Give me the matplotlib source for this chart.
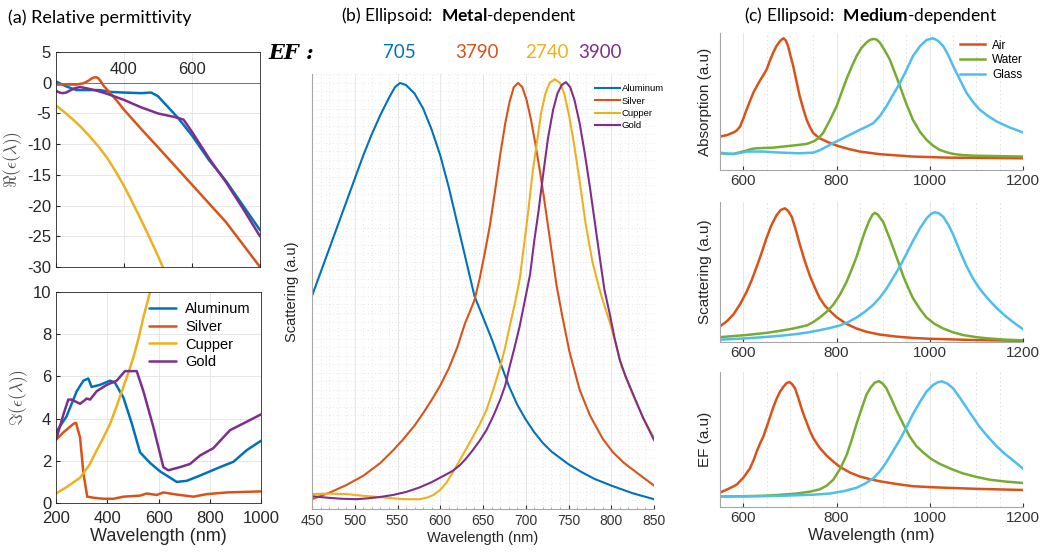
import numpy as np
import matplotlib
matplotlib.use("Agg")
import matplotlib.pyplot as plt
from matplotlib.ticker import MultipleLocator

plt.rcParams['font.family'] = ['Liberation Sans', 'DejaVu Sans']
plt.rcParams['axes.unicode_minus'] = False
plt.rcParams['mathtext.fontset'] = 'custom'
plt.rcParams['mathtext.rm'] = 'Lato'
plt.rcParams['mathtext.bf'] = 'Lato:bold'
plt.rcParams['mathtext.it'] = 'Lato:italic'

# MATLAB default colour order
BLUE, ORANGE, YELLOW, PURPLE = '#0072BD', '#D95319', '#EDB120', '#7E2F8E'
GREEN, CYAN = '#77AC30', '#4DBEEE'

metals = ['Aluminum', 'Silver', 'Cupper', 'Gold']
media = ['Air', 'Water', 'Glass']
ef_values = ['705', '3790', '2740', '3900']

### (a) real part of permittivity
re_al_wl = [200, 230, 260, 300, 330, 360, 400, 450, 480, 500, 530, 560, 600, 650, 700, 750, 800]
re_al = [0.2, -0.6, -1.2, -1.2, -1.2, -1.5, -1.6, -1.7, -1.6, -2.2, -4.0, -5.8, -8.6, -12.6, -16.0, -20.0, -24.0]
re_ag_wl = [200, 260, 280, 295, 305, 312, 318, 325, 332, 340, 350, 360, 380, 400, 450, 500, 600, 700, 800]
re_ag = [-0.3, -0.3, -0.1, 0.3, 0.7, 0.85, 0.9, 0.7, 0.2, -0.5, -1.1, -1.7, -3.0, -4.4, -7.5, -10.5, -16.6, -22.7, -30.0]
re_cu_wl = [200, 225, 250, 275, 300, 325, 350, 375, 400, 425, 450, 475, 500, 520]
re_cu = [-3.7, -4.8, -6.0, -7.3, -8.8, -10.4, -12.2, -14.4, -16.8, -19.5, -22.3, -25.2, -28.2, -30.8]
re_au_wl = [200, 210, 220, 230, 240, 255, 270, 290, 320, 350, 400, 450, 500, 550, 575, 600, 650, 700, 750, 800]
re_au = [-1.3, -1.6, -1.7, -1.6, -1.3, -0.9, -0.7, -0.9, -1.3, -1.8, -2.8, -4.0, -5.0, -5.6, -6.0, -8.0, -12.3, -16.2, -20.5, -25.0]

### (a) imaginary part of permittivity
im_al_wl = [200, 241, 281, 307, 326, 339, 372, 411, 430, 463, 495, 528, 567, 606, 671, 710, 762, 840, 892, 944, 1000]
im_al = [3.35, 4.1, 5.3, 5.8, 5.9, 5.5, 5.6, 5.8, 5.7, 5.0, 3.8, 2.4, 1.9, 1.5, 1.0, 1.05, 1.3, 1.7, 1.95, 2.5, 2.95]
im_ag_wl = [200, 229, 268, 278, 294, 307, 322, 346, 385, 424, 463, 528, 554, 593, 619, 671, 736, 788, 866, 1000]
im_ag = [3.0, 3.35, 3.75, 3.8, 3.1, 1.4, 0.3, 0.25, 0.2, 0.2, 0.3, 0.35, 0.45, 0.38, 0.5, 0.4, 0.3, 0.42, 0.5, 0.55]
im_cu_wl = [200, 241, 294, 330, 359, 385, 411, 437, 463, 483, 502, 522, 541, 567, 580]
im_cu = [0.45, 0.75, 1.2, 1.8, 2.5, 3.1, 3.75, 4.6, 5.5, 6.2, 6.9, 7.8, 8.8, 10.0, 10.6]
im_au_wl = [200, 229, 248, 261, 294, 320, 333, 359, 398, 437, 469, 515, 541, 580, 619, 638, 684, 723, 762, 814, 879, 944, 1000]
im_au = [3.0, 4.2, 4.9, 4.9, 4.7, 4.95, 4.9, 5.3, 5.6, 5.8, 6.25, 6.25, 5.3, 3.6, 1.7, 1.55, 1.7, 1.85, 2.25, 2.6, 3.45, 3.85, 4.2]

### (b) scattering, metal dependent
sc_al_wl = [450, 460, 470, 480, 490, 500, 510, 520, 530, 540, 547, 553, 560, 570, 580, 590, 600, 610, 620, 630,
            640, 650, 660, 670, 680, 690, 700, 710, 720, 730, 740, 750, 765, 780, 800, 825, 850]
sc_al = [0.50, 0.555, 0.61, 0.665, 0.72, 0.775, 0.83, 0.88, 0.925, 0.965, 0.99, 1.0, 0.995, 0.975, 0.94, 0.89, 0.83,
         0.755, 0.67, 0.585, 0.50, 0.45, 0.40, 0.345, 0.29, 0.245, 0.21, 0.18, 0.155, 0.135, 0.12, 0.105, 0.087,
         0.071, 0.055, 0.037, 0.023]
sc_ag_wl = [450, 470, 490, 510, 530, 545, 556, 570, 580, 590, 600, 610, 620, 629, 635, 640, 646, 652, 658, 664, 670,
            676, 681, 686, 691, 696, 701, 706, 711, 716, 721, 726, 731, 736, 742, 751, 763, 775, 790, 802, 815, 830, 850]
sc_ag = [0.023, 0.038, 0.056, 0.078, 0.108, 0.138, 0.162, 0.196, 0.225, 0.256, 0.29, 0.33, 0.38, 0.436, 0.465, 0.49,
         0.54, 0.60, 0.665, 0.745, 0.83, 0.905, 0.955, 0.99, 1.0, 0.99, 0.96, 0.915, 0.86, 0.80, 0.735, 0.665, 0.595,
         0.525, 0.46, 0.37, 0.28, 0.22, 0.165, 0.133, 0.108, 0.085, 0.055]
sc_cu_wl = [450, 470, 490, 510, 529, 545, 560, 576, 585, 592, 600, 607, 615, 623, 630, 638, 646, 654, 662, 670, 676,
            681, 687, 693, 698, 703, 708, 713, 718, 723, 728, 734, 740, 745, 751, 757, 763, 770, 778, 785, 790, 798,
            805, 812, 825, 837, 850]
sc_cu = [0.035, 0.036, 0.035, 0.031, 0.028, 0.025, 0.023, 0.023, 0.027, 0.033, 0.045, 0.061, 0.087, 0.115, 0.14,
         0.169, 0.198, 0.232, 0.28, 0.333, 0.38, 0.427, 0.48, 0.54, 0.62, 0.70, 0.79, 0.86, 0.93, 0.975, 1.0, 1.009,
         1.0, 0.975, 0.92, 0.85, 0.77, 0.67, 0.58, 0.525, 0.49, 0.44, 0.39, 0.335, 0.27, 0.215, 0.167]
sc_au_wl = [450, 460, 471, 485, 502, 515, 529, 545, 560, 575, 590, 605, 615, 623, 630, 638, 646, 654, 662, 670, 676,
            681, 687, 693, 699, 705, 710, 715, 720, 726, 732, 737, 742, 747, 752, 757, 763, 769, 775, 781, 787, 792,
            798, 804, 810, 817, 825, 837, 850]
sc_au = [0.03, 0.028, 0.026, 0.024, 0.023, 0.025, 0.028, 0.033, 0.04, 0.05, 0.063, 0.079, 0.09, 0.103, 0.118, 0.138,
         0.16, 0.185, 0.218, 0.256, 0.29, 0.333, 0.38, 0.43, 0.49, 0.55, 0.63, 0.70, 0.78, 0.87, 0.937, 0.975, 0.995,
         1.002, 0.99, 0.96, 0.906, 0.835, 0.756, 0.67, 0.584, 0.515, 0.46, 0.40, 0.35, 0.31, 0.272, 0.215, 0.162]

### (c) medium dependent: absorption
ab_air_wl = [550, 565, 579, 586, 593, 600, 607, 615, 622, 629, 636, 643, 650, 657, 664, 671, 679, 686, 691, 696, 701,
             707, 714, 721, 729, 736, 743, 750, 764, 779, 793, 807, 829, 850, 893, 964, 1036, 1200]
ab_air = [0.254, 0.265, 0.285, 0.30, 0.33, 0.39, 0.458, 0.53, 0.59, 0.636, 0.68, 0.72, 0.763, 0.83, 0.89, 0.94, 0.98,
          1.0, 0.985, 0.94, 0.87, 0.79, 0.675, 0.56, 0.46, 0.38, 0.325, 0.28, 0.24, 0.216, 0.195, 0.178, 0.157, 0.14,
          0.12, 0.102, 0.094, 0.089]
ab_wat_wl = [550, 565, 579, 593, 607, 618, 629, 650, 664, 700, 736, 750, 761, 771, 786, 800, 810, 821, 832, 843, 853,
             864, 872, 879, 886, 893, 903, 914, 925, 936, 950, 964, 979, 993, 1007, 1021, 1036, 1050, 1071, 1093,
             1150, 1200]
ab_wat = [0.127, 0.122, 0.122, 0.135, 0.148, 0.16, 0.165, 0.168, 0.17, 0.183, 0.198, 0.216, 0.24, 0.28, 0.38, 0.483,
          0.58, 0.687, 0.78, 0.865, 0.925, 0.967, 0.988, 0.995, 0.99, 0.967, 0.91, 0.84, 0.74, 0.636, 0.5, 0.38, 0.29,
          0.229, 0.185, 0.153, 0.135, 0.122, 0.113, 0.109, 0.105, 0.102]
ab_gla_wl = [550, 565, 579, 593, 607, 643, 679, 721, 750, 764, 779, 793, 807, 829, 850, 865, 879, 893, 907, 921, 936,
             950, 964, 979, 993, 1007, 1018, 1029, 1040, 1050, 1064, 1079, 1093, 1107, 1125, 1143, 1170, 1200]
ab_gla = [0.132, 0.125, 0.122, 0.13, 0.14, 0.14, 0.132, 0.127, 0.132, 0.15, 0.178, 0.205, 0.229, 0.268, 0.305, 0.33,
          0.356, 0.41, 0.483, 0.57, 0.66, 0.76, 0.865, 0.94, 0.987, 1.0, 0.98, 0.94, 0.87, 0.79, 0.69, 0.585, 0.515,
          0.458, 0.41, 0.369, 0.325, 0.285]

### (c) scattering
sc_air_wl = [550, 565, 579, 593, 607, 618, 629, 640, 650, 660, 671, 680, 689, 696, 704, 712, 721, 732, 743, 754, 764,
             775, 786, 800, 821, 843, 864, 893, 929, 964, 1000, 1100, 1200]
sc_air = [0.116, 0.155, 0.206, 0.28, 0.372, 0.46, 0.562, 0.67, 0.775, 0.865, 0.94, 0.98, 0.993, 0.975, 0.929, 0.84,
          0.727, 0.6, 0.49, 0.4, 0.325, 0.27, 0.23, 0.185, 0.135, 0.1, 0.076, 0.055, 0.04, 0.03, 0.024, 0.014, 0.009]
sc_wat_wl = [550, 607, 650, 679, 707, 736, 750, 764, 779, 793, 807, 821, 832, 843, 852, 861, 870, 877, 882, 889, 895,
             900, 907, 914, 921, 932, 943, 954, 964, 979, 993, 1010, 1029, 1050, 1071, 1100, 1121, 1160, 1200]
sc_wat = [0.036, 0.052, 0.068, 0.083, 0.1, 0.123, 0.148, 0.182, 0.225, 0.277, 0.35, 0.443, 0.535, 0.633, 0.73, 0.822,
          0.9, 0.945, 0.96, 0.945, 0.915, 0.893, 0.83, 0.77, 0.704, 0.6, 0.49, 0.4, 0.325, 0.245, 0.182, 0.135, 0.1,
          0.072, 0.052, 0.036, 0.028, 0.018, 0.012]
sc_gla_wl = [550, 600, 643, 679, 714, 740, 764, 786, 807, 825, 843, 861, 879, 893, 907, 921, 936, 950, 964, 979, 993,
             1002, 1011, 1020, 1029, 1040, 1050, 1064, 1079, 1093, 1107, 1125, 1143, 1160, 1179, 1200]
sc_gla = [0.017, 0.026, 0.036, 0.046, 0.059, 0.072, 0.088, 0.104, 0.123, 0.148, 0.182, 0.225, 0.277, 0.33, 0.396,
          0.475, 0.562, 0.655, 0.751, 0.845, 0.917, 0.95, 0.964, 0.955, 0.929, 0.87, 0.8, 0.68, 0.562, 0.47, 0.396,
          0.32, 0.254, 0.2, 0.147, 0.095]

### (c) enhancement factor
ef_air_wl = [550, 565, 575, 586, 600, 614, 622, 629, 636, 643, 650, 657, 664, 671, 679, 686, 693, 699, 705, 711, 718,
             724, 729, 736, 743, 750, 764, 779, 793, 807, 829, 850, 871, 893, 929, 964, 1000, 1036, 1100, 1200]
ef_air = [0.111, 0.135, 0.152, 0.173, 0.225, 0.296, 0.36, 0.43, 0.49, 0.543, 0.615, 0.69, 0.765, 0.83, 0.89, 0.926,
          0.955, 0.963, 0.945, 0.914, 0.84, 0.77, 0.716, 0.65, 0.585, 0.531, 0.455, 0.395, 0.35, 0.309, 0.265, 0.235,
          0.215, 0.198, 0.177, 0.16, 0.153, 0.148, 0.14, 0.131]
ef_wat_wl = [550, 600, 643, 679, 714, 743, 764, 779, 793, 807, 821, 832, 843, 854, 864, 873, 882, 891, 899, 907, 918,
             929, 943, 957, 971, 986, 1003, 1021, 1046, 1071, 1100, 1129, 1165, 1200]
ef_wat = [0.081, 0.083, 0.086, 0.094, 0.104, 0.118, 0.136, 0.165, 0.21, 0.29, 0.395, 0.51, 0.642, 0.76, 0.864, 0.92,
          0.958, 0.97, 0.95, 0.914, 0.83, 0.741, 0.64, 0.543, 0.47, 0.42, 0.37, 0.333, 0.293, 0.259, 0.232, 0.21,
          0.195, 0.185]
ef_gla_wl = [550, 600, 679, 750, 786, 815, 843, 861, 879, 893, 907, 921, 936, 950, 964, 979, 993, 1007, 1018, 1026,
             1038, 1050, 1064, 1079, 1093, 1107, 1125, 1143, 1161, 1179, 1200]
ef_gla = [0.081, 0.082, 0.086, 0.095, 0.104, 0.122, 0.148, 0.18, 0.222, 0.275, 0.346, 0.43, 0.519, 0.615, 0.716,
          0.81, 0.889, 0.94, 0.962, 0.968, 0.95, 0.914, 0.845, 0.765, 0.69, 0.617, 0.54, 0.469, 0.41, 0.358, 0.296]


W, H = 1040.0, 552.0
def box(left, top, right, bottom):
    return [left / W, 1 - bottom / H, (right - left) / W, (bottom - top) / H]

def px(x, y):
    return x / W, 1 - y / H

fig = plt.figure(figsize=(10.4, 5.52), dpi=100)

## ---------- (a) top: real part
ax = fig.add_axes(box(56, 52, 260, 267))
for wl, v, c in [(re_al_wl, re_al, BLUE), (re_ag_wl, re_ag, ORANGE),
                 (re_cu_wl, re_cu, YELLOW), (re_au_wl, re_au, PURPLE)]:
    ax.plot(wl, v, color=c, lw=1.8, solid_capstyle='round', solid_joinstyle='round')
ax.set_xlim(200, 800)
ax.set_ylim(-30, 5)
ax.set_xticks([200, 400, 600, 800])
ax.set_xticklabels([])
ax.set_yticks(np.arange(-30, 6, 5))
ax.axhline(0, color='0.45', lw=0.7)
for t in (400, 600):
    ax.text(t, 0.9, str(t), ha='center', va='bottom', fontsize=12, color='0.15')
ax.grid(True, color='0.9', lw=0.7)
ax.set_axisbelow(True)
ax.tick_params(direction='in', length=3, labelsize=12, colors='0.15')
for s in ax.spines.values():
    s.set_color('0.15'); s.set_linewidth(0.6)
ax.set_ylabel(r'$\Re(\epsilon(\lambda))$', math_fontfamily='cm', fontsize=12.5, color='0.3', labelpad=2)

## ---------- (a) bottom: imaginary part
ax = fig.add_axes(box(56, 292, 261, 503))
lines = []
for wl, v, c in [(im_al_wl, im_al, BLUE), (im_ag_wl, im_ag, ORANGE),
                 (im_cu_wl, im_cu, YELLOW), (im_au_wl, im_au, PURPLE)]:
    lines += ax.plot(wl, v, color=c, lw=1.8, solid_capstyle='round', solid_joinstyle='round')
ax.set_xlim(200, 1000)
ax.set_ylim(0, 10)
ax.set_xticks(np.arange(200, 1001, 200))
ax.set_yticks(np.arange(0, 11, 2))
ax.grid(True, color='0.9', lw=0.7)
ax.set_axisbelow(True)
ax.tick_params(direction='in', length=3, labelsize=12, colors='0.15')
ax.tick_params(axis='x', pad=6)
for s in ax.spines.values():
    s.set_color('0.15'); s.set_linewidth(0.6)
ax.set_ylabel(r'$\Im(\epsilon(\lambda))$', math_fontfamily='cm', fontsize=12.5, color='0.3', labelpad=2)
ax.set_xlabel('Wavelength (nm)', fontsize=13, color='0.15', labelpad=1)
ax.legend(lines, metals, loc='upper right', frameon=False, fontsize=10.5,
          handlelength=1.9, labelspacing=0.25, handletextpad=0.6, borderaxespad=0.3)

## ---------- (b) scattering, metal dependent
ax = fig.add_axes(box(312, 74, 654, 509))
lines = []
for wl, v, c in [(sc_al_wl, sc_al, BLUE), (sc_ag_wl, sc_ag, ORANGE),
                 (sc_cu_wl, sc_cu, YELLOW), (sc_au_wl, sc_au, PURPLE)]:
    lines += ax.plot(wl, v, color=c, lw=1.5, solid_joinstyle='round')
ax.set_xlim(450, 850)
ax.set_ylim(0, 1.021)
ax.set_xticks(np.arange(450, 851, 50))
ax.set_yticks([])
ax.xaxis.set_minor_locator(MultipleLocator(10))
ax.yaxis.set_minor_locator(MultipleLocator(0.02))
ax.grid(True, which='major', axis='x', color='0.9', lw=0.7)
ax.grid(True, which='minor', axis='both', color='0.82', lw=0.5, ls=(0, (1, 4)))
ax.set_axisbelow(True)
ax.tick_params(axis='x', which='major', direction='in', length=3, labelsize=10, colors='0.2')
ax.tick_params(axis='x', which='minor', direction='in', length=1.5, colors='0.6')
ax.tick_params(axis='y', which='both', length=0)
ax.spines['top'].set_visible(False)
ax.spines['right'].set_visible(False)
ax.spines['left'].set_color('0.65')
ax.spines['bottom'].set_color('0.65')
ax.set_ylabel('Scattering (a.u)', fontsize=10.5, color='0.15', labelpad=6)
ax.set_xlabel('Wavelength (nm)', fontsize=10.5, color='0.15', labelpad=2)
ax.legend(lines, metals, loc='upper left', bbox_to_anchor=(0.815, 0.985), frameon=False,
          fontsize=6.8, handlelength=2.7, labelspacing=0.35, handletextpad=0.2, borderaxespad=0)

## EF values above panel (b)
fig.text(*px(268, 53), 'EF :', family='DejaVu Serif', weight='bold', style='italic',
         fontsize=15, va='center', ha='left')
for (x, lab, c) in zip([399, 477, 547, 600], ef_values, [BLUE, ORANGE, YELLOW, PURPLE]):
    fig.text(*px(x, 53), lab, color=c, family='Lato', fontsize=13.5, ha='center', va='center')

## ---------- (c) medium dependent
rows = [
    ((33, 170), 'Absorption (a.u)', [(ab_air_wl, ab_air), (ab_wat_wl, ab_wat), (ab_gla_wl, ab_gla)]),
    ((202, 342), 'Scattering (a.u)', [(sc_air_wl, sc_air), (sc_wat_wl, sc_wat), (sc_gla_wl, sc_gla)]),
    ((372, 507), 'EF (a.u)', [(ef_air_wl, ef_air), (ef_wat_wl, ef_wat), (ef_gla_wl, ef_gla)]),
]
for i, ((top, bot), ylab, series) in enumerate(rows):
    ax = fig.add_axes(box(720, top, 1023, bot))
    lines = []
    for (wl, v), c in zip(series, [ORANGE, GREEN, CYAN]):
        lines += ax.plot(wl, v, color=c, lw=1.8, solid_joinstyle='round')
    ax.set_xlim(550, 1200)
    ax.set_ylim(0, 1.04)
    ax.set_xticks([600, 800, 1000, 1200])
    ax.set_yticks([])
    ax.xaxis.set_minor_locator(MultipleLocator(50))
    ax.grid(True, which='major', axis='x', color='0.9', lw=0.7)
    ax.grid(True, which='minor', axis='x', color='0.82', lw=0.5, ls=(0, (2, 4)))
    ax.set_axisbelow(True)
    ax.tick_params(axis='x', which='major', direction='in', length=3, labelsize=11, colors='0.2', pad=3)
    ax.tick_params(axis='x', which='minor', length=0)
    ax.tick_params(axis='y', which='both', length=0)
    ax.spines['top'].set_visible(False)
    ax.spines['right'].set_visible(False)
    ax.spines['left'].set_color('0.65')
    ax.spines['bottom'].set_color('0.65')
    ax.set_ylabel(ylab, fontsize=11, color='0.15', labelpad=6)
    if i == 0:
        ax.legend(lines, media, loc='upper right', bbox_to_anchor=(1.035, 1.03), frameon=False,
                  fontsize=8.5, handlelength=2.1, labelspacing=0.25, handletextpad=0.6)
    if i == 2:
        ax.set_xlabel('Wavelength (nm)', fontsize=12, color='0.15', labelpad=2)

## panel titles
fig.text(*px(8, 18), '(a) Relative permittivity', family='Lato', fontsize=13, va='center')
fig.text(*px(459, 16), r'(b) Ellipsoid:  $\mathbf{Metal}$-dependent', family='Lato',
         math_fontfamily='custom', fontsize=12.5, ha='center', va='center')
fig.text(*px(871, 15), r'(c) Ellipsoid:  $\mathbf{Medium}$-dependent', family='Lato',
         math_fontfamily='custom', fontsize=12.5, ha='center', va='center')

fig.savefig('out.png', dpi=100, facecolor='white')
